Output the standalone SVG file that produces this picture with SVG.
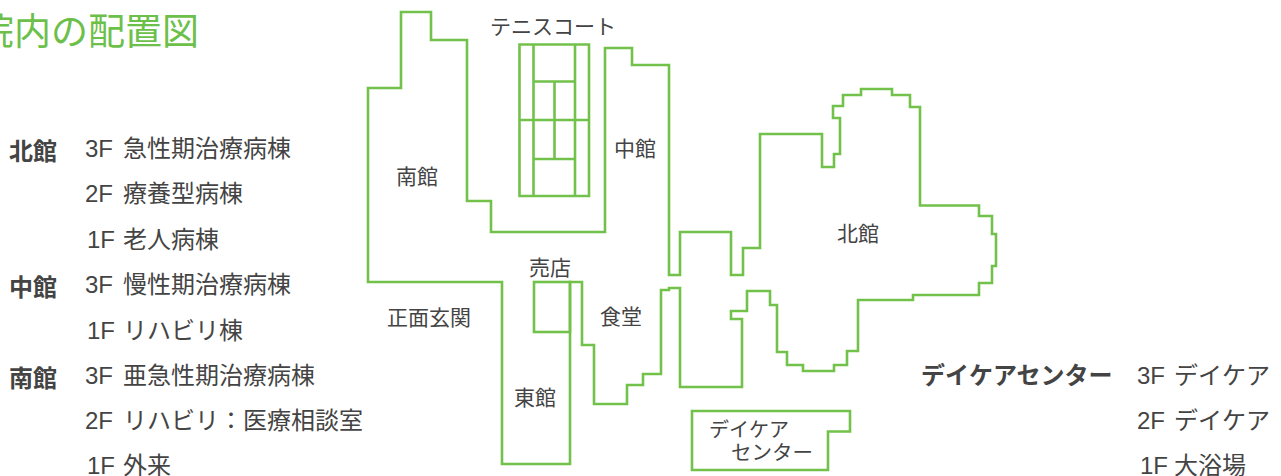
<svg xmlns="http://www.w3.org/2000/svg" width="1281" height="476" viewBox="0 0 1281 476">
<style>
.w{fill:none;stroke:#72c14a;stroke-width:2.6}
.t{font-family:"Noto Sans CJK JP","Liberation Sans",sans-serif;fill:#444}
.m{font-size:21px}
.l{font-size:24px}
.e{font-family:"Liberation Sans",sans-serif;font-size:24px}
.b{font-size:24px;font-weight:700}
.h{font-size:37px;fill:#6cc04a}
</style>
<rect width="1281" height="476" fill="#fff"/>
<g id="title"><text class="t h" x="-23" y="45">院内の配置図</text></g>
<g id="connectors"/>
<g id="south-main"><path class="w" d="M502 464V282H368V88H401V12H431V40H467V201H491V232H605V48H632V65H669V275H680V232H731V275H743V248H760V134H822V167H834V154H840V118H833V106H843V95H861V89H892V95H910V107H920V205.500H979V216H992V234H996V266H992V283H979V295H913V300H858V351H847V365H834V371H803V365H787V352H777V305H770V291H747V311H731V319H742V387H680V288H669V290H661V374H643V385H627V404H594V345H582V282H570V464Z"/>
<text class="t m" x="396" y="184">南館</text>
<text class="t m" x="614" y="156">中館</text>
<text class="t m" x="387" y="325">正面玄関</text>
<text class="t m" x="837" y="241">北館</text>
<text class="t m" x="600" y="324">食堂</text>
<text class="t m" x="514" y="405">東館</text></g>
<g id="shop"><rect class="w" x="534" y="282" width="36" height="50"/><text class="t m" x="529" y="275">売店</text></g>
<g id="tennis"><path class="w" d="M519.500 44.500H589V196H519.500ZM533.500 44.500V196M575 44.500V196M519.500 120H589M533.500 81.500H575M533.500 159H575M554.500 81.500V159"/><text class="t m" x="490" y="34">テニスコート</text></g>
<g id="daycare"><path class="w" d="M692 411H850V431.500H828V470H692Z"/><text class="t m" x="709" y="437" style="font-size:20px">デイケア</text><text class="t m" x="731" y="460" style="font-size:20.500px">センター</text></g>
<g id="legend-north"><text class="t b" x="9" y="160">北館</text><text class="t l" y="157"><tspan class="e" x="85">3F</tspan><tspan x="123">急性期治療病棟</tspan></text><text class="t l" y="202"><tspan class="e" x="85">2F</tspan><tspan x="123">療養型病棟</tspan></text><text class="t l" y="248"><tspan class="e" x="87">1F</tspan><tspan x="123">老人病棟</tspan></text></g>
<g id="legend-middle"><text class="t b" x="9" y="296">中館</text><text class="t l" y="293"><tspan class="e" x="85">3F</tspan><tspan x="123">慢性期治療病棟</tspan></text><text class="t l" y="339"><tspan class="e" x="87">1F</tspan><tspan x="123">リハビリ棟</tspan></text></g>
<g id="legend-south"><text class="t b" x="9" y="387">南館</text><text class="t l" y="384"><tspan class="e" x="85">3F</tspan><tspan x="123">亜急性期治療病棟</tspan></text><text class="t l" y="429"><tspan class="e" x="85">2F</tspan><tspan x="123">リハビリ：医療相談室</tspan></text><text class="t l" y="474"><tspan class="e" x="87">1F</tspan><tspan x="123">外来</tspan></text></g>
<g id="legend-daycare"><text class="t b" x="921" y="384">デイケアセンター</text><text class="t l" y="384"><tspan class="e" x="1137">3F</tspan><tspan x="1174">デイケア</tspan></text><text class="t l" y="429"><tspan class="e" x="1137">2F</tspan><tspan x="1174">デイケア</tspan></text><text class="t l" y="474"><tspan class="e" x="1140">1F</tspan><tspan x="1174">大浴場</tspan></text></g>
</svg>
